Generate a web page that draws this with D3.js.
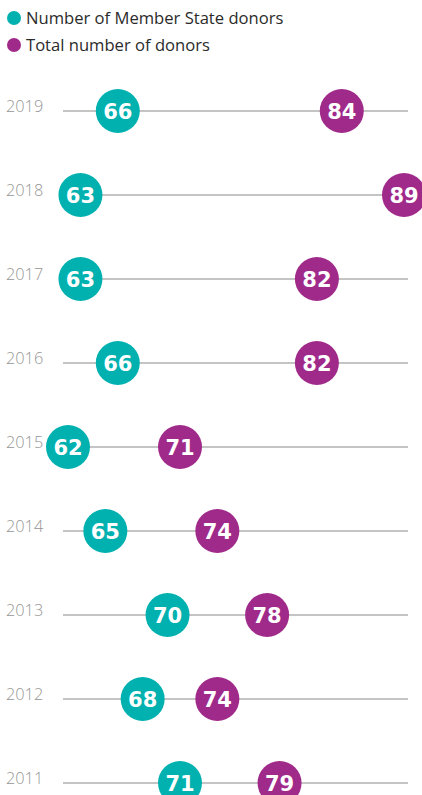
<!DOCTYPE html>
<html>
<head>
<meta charset="utf-8">
<script src="https://cdn.jsdelivr.net/npm/d3@7"></script>
<style>
  html, body { margin: 0; padding: 0; background: #fff; }
  svg { display: block; }
</style>
</head>
<body>
<svg id="chart" width="422" height="795"></svg>
<script>
// Donor counts per year
const years = ["2019", "2018", "2017", "2016", "2015", "2014", "2013", "2012", "2011"];
const memberStateDonors = [66, 63, 63, 66, 62, 65, 70, 68, 71];
const totalDonors = [84, 89, 82, 82, 71, 74, 78, 74, 79];

const seriesNames = ["Number of Member State donors", "Total number of donors"];
const seriesColors = ["#00b1b0", "#a02a8a"];

const svg = d3.select("#chart");

const x = d3.scaleLinear().domain([62, 89]).range([68, 404]);
const y = d3.scalePoint().domain(years).range([111, 783]);

// Legend
const legend = svg.append("g");
seriesNames.forEach((name, i) => {
  const g = legend.append("g").attr("transform", `translate(0,${18 + i * 27})`);
  g.append("circle").attr("cx", 14).attr("cy", 0).attr("r", 7).attr("fill", seriesColors[i]);
  g.append("text").attr("x", 26).attr("y", 0).attr("dy", "0.36em")
    .attr("font-family", "'Open Sans', sans-serif").attr("font-size", 16.6)
    .attr("fill", "#2b2b2b").text(name);
});

// Rows: baseline and year label
const rows = svg.append("g").selectAll("g").data(years).join("g")
  .attr("transform", d => `translate(0,${y(d)})`);

rows.append("line").attr("x1", 63).attr("x2", 408)
  .attr("stroke", "#b0b0b0").attr("stroke-width", 1.5);

rows.append("text").attr("x", 6).attr("y", 1)
  .attr("font-family", "'Open Sans', sans-serif").attr("font-weight", 300)
  .attr("font-size", 16.3).attr("fill", "#969696").text(d => d);

// Dots with value labels
const series = [memberStateDonors, totalDonors];
series.forEach((vals, si) => {
  const g = svg.append("g");
  const pts = years.map((yr, i) => ({ yr, v: vals[i] }));
  g.selectAll("circle").data(pts).join("circle")
    .attr("cx", d => x(d.v)).attr("cy", d => y(d.yr)).attr("r", 22)
    .attr("fill", seriesColors[si]);
  g.selectAll("text").data(pts).join("text")
    .attr("x", d => x(d.v)).attr("y", d => y(d.yr)).attr("dy", "0.36em")
    .attr("text-anchor", "middle")
    .attr("font-family", "'DejaVu Sans', sans-serif").attr("font-weight", 700)
    .attr("font-size", 21).attr("fill", "#fff").text(d => d.v);
});
</script>
</body>
</html>
